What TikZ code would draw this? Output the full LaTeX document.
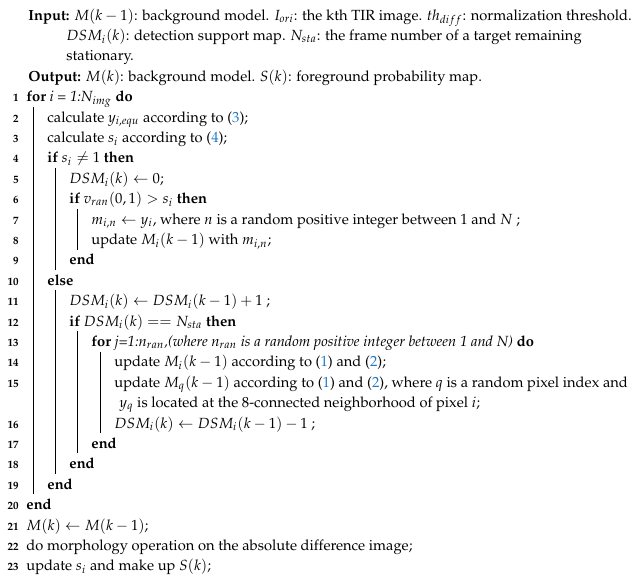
\documentclass[tikz,border=0pt]{standalone}
\usepackage[T1]{fontenc}
\usepackage{mathpazo}
\usepackage{amsmath}
\begin{document}
\definecolor{refblue}{RGB}{30,120,200}
\newcommand{\rf}[1]{(\textcolor{refblue}{#1})}
\begin{tikzpicture}[x=0.5pt,y=-0.5pt,
  tx/.style={anchor=base west,inner sep=0pt,font=\fontsize{7.35}{9}\selectfont},
  ln/.style={anchor=base east,inner sep=0pt,font=\fontsize{5.5}{6}\selectfont\bfseries},
  bar/.style={line width=0.4pt}]
\useasboundingbox (0,0) rectangle (640,578);
% header
\node[tx] (in1) at (28,20) {\textbf{Input:} $M(k-1)$: background model. $I_{ori}$: the kth TIR image. $th_{diff}$: normalization threshold.};
\node[tx] (in2) at (66,40.4) {$DSM_i(k)$: detection support map. $N_{sta}$: the frame number of a target remaining};
\node[tx] (in3) at (66,60.8) {stationary.};
\node[tx] (out) at (28,81.2) {\textbf{Output:} $M(k)$: background model. $S(k)$: foreground probability map.};
\foreach \r/\n in {4/1,5/2,6/3,7/4,8/5,9/6,10/7,11/8,12/9,13/10,14/11,15/12,16/13,17/14,18/15,20/16,21/17,22/18,23/19,24/20,25/21,26/22,27/23}
  \node[ln] (n\n) at (19,20+\r*20.4) {\n};
\node[tx] (l1) at (26,101.6) {\textbf{for} \textit{i = 1:N$_{img}$} \textbf{do}};
\node[tx] (l2) at (47,122) {calculate $y_{i,equ}$ according to \rf{3};};
\node[tx] (l3) at (47,142.4) {calculate $s_i$ according to \rf{4};};
\node[tx] (l4) at (47,162.8) {\textbf{if} $s_i \neq 1$ \textbf{then}};
\node[tx] (l5) at (69,183.2) {$DSM_i(k) \leftarrow 0$;};
\node[tx] (l6) at (69,203.6) {\textbf{if} $v_{ran}(0,1) > s_i$ \textbf{then}};
\node[tx] (l7) at (91,224) {$m_{i,n} \leftarrow y_i$, where $n$ is a random positive integer between 1 and $N$ ;};
\node[tx] (l8) at (91,244.4) {update $M_i(k-1)$ with $m_{i,n}$;};
\node[tx] (l9) at (69,264.8) {\textbf{end}};
\node[tx] (l10) at (47,285.2) {\textbf{else}};
\node[tx] (l11) at (69,305.6) {$DSM_i(k) \leftarrow DSM_i(k-1)+1$ ;};
\node[tx] (l12) at (69,326) {\textbf{if} $DSM_i(k) == N_{sta}$ \textbf{then}};
\node[tx] (l13) at (91,346.4) {\textbf{for} \textit{j=1:n$_{ran}$,(where n$_{ran}$ is a random positive integer between 1 and N)} \textbf{do}};
\node[tx] (l14) at (114,366.8) {update $M_i(k-1)$ according to \rf{1} and \rf{2};};
\node[tx] (l15) at (114,387.2) {update $M_q(k-1)$ according to \rf{1} and \rf{2}, where $q$ is a random pixel index and};
\node[tx] (l15b) at (119,407.6) {$y_q$ is located at the 8-connected neighborhood of pixel $i$;};
\node[tx] (l16) at (114,428) {$DSM_i(k) \leftarrow DSM_i(k-1)-1$ ;};
\node[tx] (l17) at (91,448.4) {\textbf{end}};
\node[tx] (l18) at (69,468.8) {\textbf{end}};
\node[tx] (l19) at (47,489.2) {\textbf{end}};
\node[tx] (l20) at (26,509.6) {\textbf{end}};
\node[tx] (l21) at (26,530) {$M(k) \leftarrow M(k-1)$;};
\node[tx] (l22) at (26,550.4) {do morphology operation on the absolute difference image;};
\node[tx] (l23) at (26,570.8) {update $s_i$ and make up $S(k)$;};
\draw[bar] (33,107) -- (33,494);
\draw[bar] (55,168) -- (55,270);
\draw[bar] (55,290) -- (55,474);
\draw[bar] (77,209) -- (77,250);
\draw[bar] (77,331) -- (77,453);
\draw[bar] (100,352) -- (100,433);
\end{tikzpicture}
\end{document}
